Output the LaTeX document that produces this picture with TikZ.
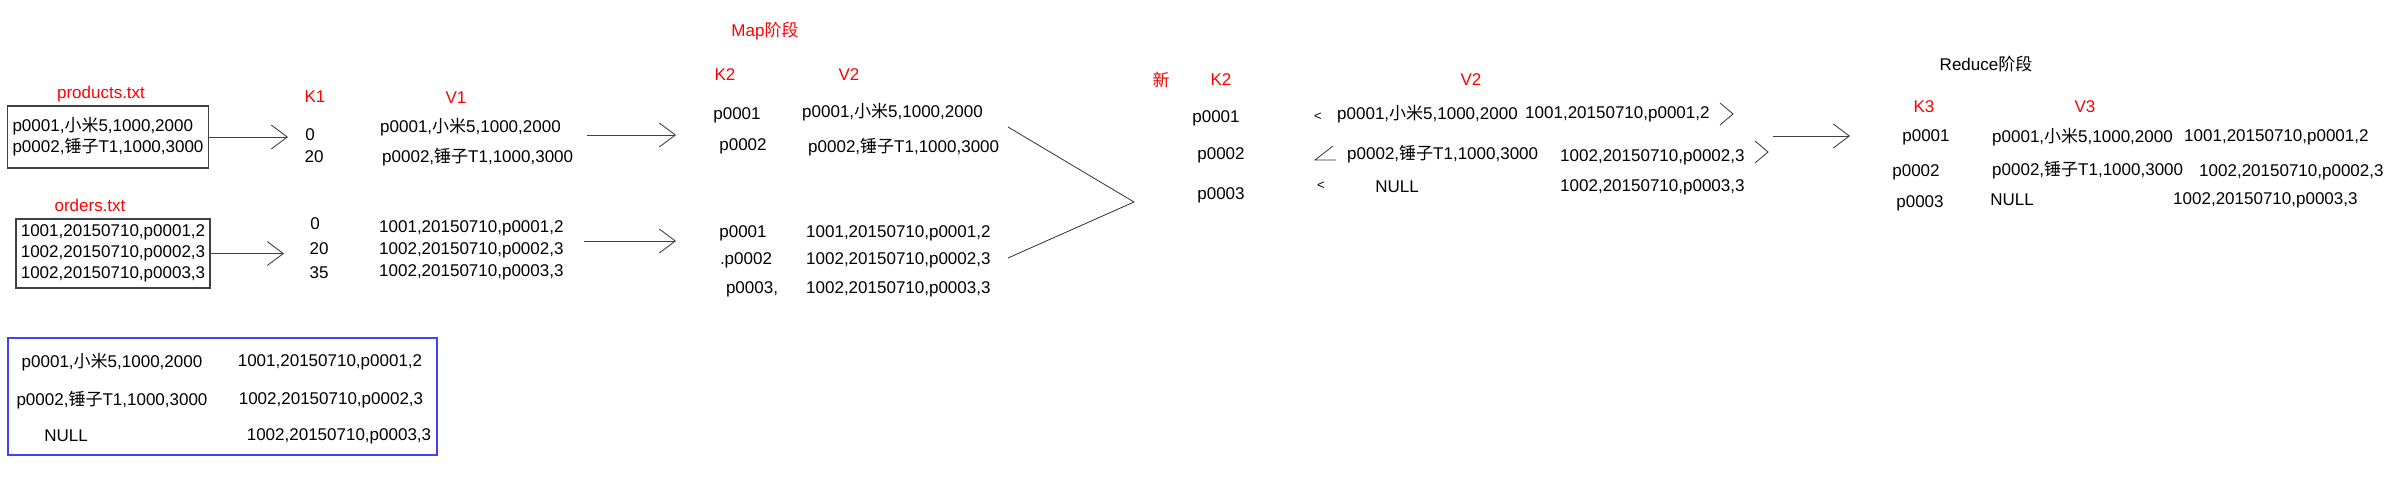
\documentclass[tikz,border=0pt]{standalone}
\usepackage{fontspec}
\setmainfont{Liberation Sans}
\newfontfamily\cjk{Noto Sans CJK SC}
\usetikzlibrary{arrows.meta}

\newcommand{\prodA}{p0001,{\cjk 小米}5,1000,2000}
\newcommand{\prodB}{p0002,{\cjk 锤子}T1,1000,3000}
\newcommand{\ordA}{1001,20150710,p0001,2}
\newcommand{\ordB}{1002,20150710,p0002,3}
\newcommand{\ordC}{1002,20150710,p0003,3}

\begin{document}
\begin{tikzpicture}[x=1pt,y=-1pt,
    every node/.style={inner sep=0pt, font=\fontsize{17}{21}\selectfont},
    head/.style={text=red},
    row/.style={anchor=west},
    small/.style={font=\fontsize{13}{13}\selectfont},
    filebox/.style={draw=black!75, line width=1.2pt, align=left},
    arr/.style={-{Straight Barb[length=16pt,width=24pt]}, line width=0.9pt, draw=black!75},
    thin/.style={line width=0.8pt, draw=black!80}]
    \useasboundingbox (0,0) rectangle (2408,490);

    % Input files
    \node[head] (prodtitle) at (101,94) {products.txt};
    \node[filebox, minimum width=201pt, minimum height=62pt] (prodbox) at (108,137) {\prodA\\\prodB};
    \node[head] (ordtitle) at (90,205) {orders.txt};
    \node[filebox, minimum width=194pt, minimum height=69pt] (ordbox) at (113,253.5) {\ordA\\\ordB\\\ordC};
    \coordinate (prodend) at (288,137);
    \coordinate (ordend) at (284,253.5);
    \draw[arr] (prodbox.east) -- (prodend);
    \draw[arr] (ordbox.east) -- (ordend);

    % K1 / V1
    \node[head] (kone) at (315,97) {K1};
    \node[head] (vone) at (456,98) {V1};
    \node (ka1) at (310,135) {0};
    \node (ka2) at (314,157) {20};
    \node[row] (va1) at (380,127) {\prodA};
    \node[row] (va2) at (382,157) {\prodB};
    \node (kb1) at (315,224) {0};
    \node (kb2) at (319,249) {20};
    \node (kb3) at (319,273) {35};
    \foreach \y/\v [count=\i] in {228/\ordA, 250/\ordB, 272/\ordC}
        \node[row] (vb\i) at (379,\y) {\v};
    \coordinate (mapina) at (587,135);
    \coordinate (mapouta) at (676,135);
    \coordinate (mapinb) at (584,241);
    \coordinate (mapoutb) at (676,241);
    \draw[arr] (mapina) -- (mapouta);
    \draw[arr] (mapinb) -- (mapoutb);

    % Map stage: K2 / V2
    \node[head] (maptitle) at (765,31) {Map{\cjk 阶段}};
    \node[head] (ktwo) at (725,75) {K2};
    \node[head] (vtwo) at (849,75) {V2};
    \node (kc1) at (737,115) {p0001};
    \node (kc2) at (743,146) {p0002};
    \node[row] (vc1) at (802,112) {\prodA};
    \node[row] (vc2) at (808,147) {\prodB};
    \node (kd1) at (743,233) {p0001};
    \node (kd2) at (746,260) {.p0002};
    \node (kd3) at (752,289) {p0003,};
    \foreach \y/\v [count=\i] in {233/\ordA, 260/\ordB, 289/\ordC}
        \node[row] (vd\i) at (806,\y) {\v};
    \coordinate (joina) at (1008,127);
    \coordinate (joinb) at (1008,258);
    \coordinate (joinc) at (1134,202);
    \draw[thin] (joina) -- (joinc) -- (joinb);

    % Shuffle: new K2 / V2
    \node[head] (xin) at (1161,80) {{\cjk 新}};
    \node[head] (ktwonew) at (1221,80) {K2};
    \node[head] (vtwonew) at (1471,80) {V2};
    \node (ke1) at (1216,118) {p0001};
    \node (ke2) at (1221,155) {p0002};
    \node (ke3) at (1221,195) {p0003};
    \node[small] (lta) at (1318,117) {<};
    \draw[thin] (1333,146) -- (1315,160) -- (1336,160);
    \node[small] (ltc) at (1321,186) {<};
    \node[row] (ve1) at (1337,114) {\prodA};
    \node[row] (vf1) at (1525,114) {\ordA};
    \node[row] (ve2) at (1347,154) {\prodB};
    \node[row] (vf2) at (1560,157) {\ordB};
    \node (ve3) at (1397,187) {NULL};
    \node[row] (vf3) at (1560,187) {\ordC};
    \draw[thin] (1720,103) -- (1733,114) -- (1720,125);
    \draw[thin] (1755,141) -- (1768,152) -- (1755,163);
    \coordinate (redin) at (1773,136);
    \coordinate (redout) at (1850,136);
    \draw[arr] (redin) -- (redout);

    % Reduce stage: K3 / V3
    \node (redtitle) at (1986,64) {Reduce{\cjk 阶段}};
    \node[head] (kthree) at (1924,107) {K3};
    \node[head] (vthree) at (2085,107) {V3};
    \node (kg1) at (1926,137) {p0001};
    \node (kg2) at (1916,172) {p0002};
    \node (kg3) at (1920,203) {p0003};
    \node[row] (vg1) at (1992,137) {\prodA};
    \node[row] (vh1) at (2184,137) {\ordA};
    \node[row] (vg2) at (1992,170) {\prodB};
    \node[row] (vh2) at (2199,172) {\ordB};
    \node (vg3) at (2012,200) {NULL};
    \node[row] (vh3) at (2173,200) {\ordC};

    % Joined result
    \node[draw=blue!75, line width=1.2pt, minimum width=429pt, minimum height=117pt] (joinbox) at (222.5,396.5) {};
    \node (ja1) at (112,362) {\prodA};
    \node (jb1) at (330,362) {\ordA};
    \node (ja2) at (112,400) {\prodB};
    \node (jb2) at (331,400) {\ordB};
    \node (ja3) at (66,436) {NULL};
    \node (jb3) at (339,436) {\ordC};
\end{tikzpicture}
\end{document}
